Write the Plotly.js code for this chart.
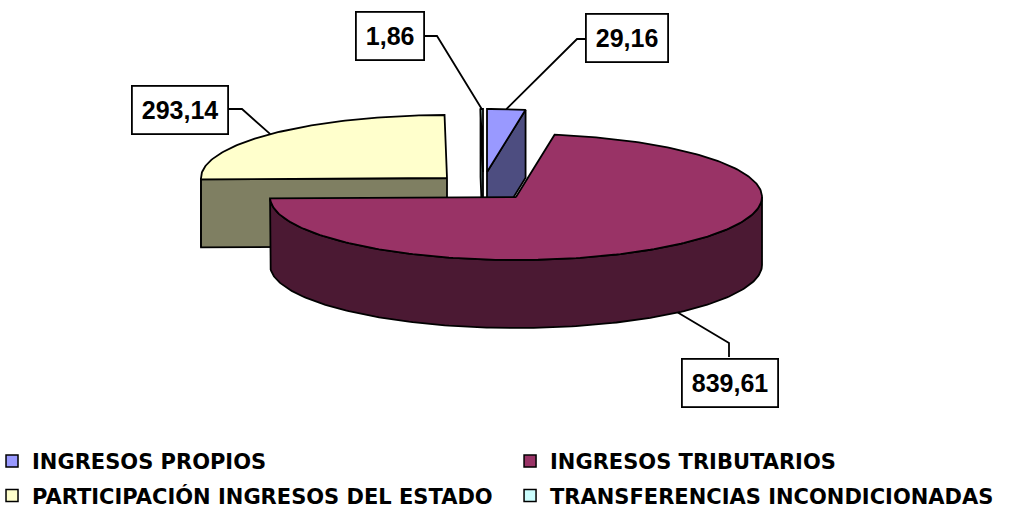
<!DOCTYPE html>
<html><head><meta charset="utf-8">
<script src="https://cdn.plot.ly/plotly-3.0.1.min.js"></script>
<style>html,body{margin:0;padding:0;background:#fff}#chart{width:1011px;height:508px}</style>
</head><body><div id="chart"></div>
<script>
// ---- data ----
const categories = ['INGRESOS PROPIOS', 'INGRESOS TRIBUTARIOS', 'PARTICIPACIÓN INGRESOS DEL ESTADO', 'TRANSFERENCIAS INCONDICIONADAS'];
const values = [29.16, 839.61, 293.14, 1.86];
const valueLabels = values.map(v => v.toFixed(2).replace('.', ','));

// ---- style ----
const topColors  = ['#9999FF', '#993366', '#FFFFCC', '#CCFFFF'];
const sideColors = ['#4D4D80', '#4B1933', '#7F7F62', '#668080'];
// explosion offsets of each slice (pixels, as drawn by the original 3-D renderer)
const explode = [[-29, -25], [0, 0], [-69, -19], [-33, -25]];
const PIE = {cx: 516, cy: 197, rx: 246, ry: 63, depth: 68};
const OUTLINE = {color: '#000', width: 1.8};
// label boxes (centre) and leader elbows, plus which rim the leader ends on
const labelBoxes = [
  {x: 627, y: 38, edge: [590, 39], elbow: [577, 39], rim: 'top'},
  {x: 730, y: 383, edge: [729, 357], elbow: [729, 343], rim: 'bottom'},
  {x: 180, y: 110, edge: [228, 109], elbow: [242, 109], rim: 'top'},
  {x: 390, y: 36, edge: [423, 36], elbow: [437, 36], rim: 'top'}
];

const rad = d => d * Math.PI / 180;
function pt(cx, cy, deg, dy) {
  return [cx + PIE.rx * Math.sin(rad(deg)), cy - PIE.ry * Math.cos(rad(deg)) + (dy || 0)];
}
function arc(cx, cy, a, b, dy) {
  const pts = [];
  const n = Math.max(2, Math.ceil(Math.abs(b - a)));
  for (let k = 0; k <= n; k++) pts.push(pt(cx, cy, a + (b - a) * k / n, dy));
  return pts;
}
function poly(points, fill) {
  return {type: 'scatter', mode: 'lines', x: points.map(p => p[0]), y: points.map(p => p[1]),
    fill: 'toself', fillcolor: fill, line: OUTLINE, hoverinfo: 'skip', showlegend: false};
}

const total = values.reduce((s, v) => s + v, 0);
let start = 0;
const slices = values.map((v, i) => {
  const a0 = start, a1 = start + v / total * 360; start = a1;
  const m = (a0 + a1) / 2;
  return {i, a0, a1, m, cx: PIE.cx + explode[i][0], cy: PIE.cy + explode[i][1], depthKey: -Math.cos(rad(m))};
});

const traces = [];
slices.slice().sort((p, q) => p.depthKey - q.depthKey).forEach(s => {
  const H = PIE.depth;
  // outer wall (front half only)
  const lo = Math.max(s.a0, 90), hi = Math.min(s.a1, 270);
  if (hi > lo) {
    const top = arc(s.cx, s.cy, lo, hi, 0), bot = arc(s.cx, s.cy, hi, lo, H);
    traces.push(poly(top.concat(bot, [top[0]]), sideColors[s.i]));
  }
  // radial cut faces facing the viewer
  [[s.a0, Math.sin(rad(s.a0)) < -1e-6], [s.a1, Math.sin(rad(s.a1)) > 1e-6]].forEach(([a, vis]) => {
    if (!vis) return;
    const p = pt(s.cx, s.cy, a);
    traces.push(poly([[s.cx, s.cy], p, [p[0], p[1] + H], [s.cx, s.cy + H], [s.cx, s.cy]], sideColors[s.i]));
  });
  // top face
  traces.push(poly([[s.cx, s.cy]].concat(arc(s.cx, s.cy, s.a0, s.a1, 0), [[s.cx, s.cy]]), topColors[s.i]));
});

// leader lines and value boxes
const annotations = [];
slices.forEach(s => {
  const L = labelBoxes[s.i];
  const anchor = pt(s.cx, s.cy, s.m, L.rim === 'bottom' ? PIE.depth : 0);
  traces.push({type: 'scatter', mode: 'lines', x: [anchor[0], L.elbow[0], L.edge[0]], y: [anchor[1], L.elbow[1], L.edge[1]],
    line: {color: '#000', width: 1.8}, hoverinfo: 'skip', showlegend: false});
  annotations.push({x: L.x, y: L.y, xref: 'x', yref: 'y', text: valueLabels[s.i], showarrow: false,
    font: {family: 'Liberation Sans, Arial, sans-serif', size: 25, color: '#000', weight: 'bold'},
    bgcolor: '#fff', bordercolor: '#000', borderwidth: 1.8, borderpad: 9});
});

// legend entries
categories.forEach((c, i) => {
  traces.push({type: 'scatter', mode: 'markers', x: [null], y: [null], name: c,
    legend: i % 2 === 0 ? 'legend' : 'legend2', legendgroup: 'g' + i,
    marker: {symbol: 'square', size: 12, color: topColors[i], line: {color: '#000', width: 1.5}},
    hoverinfo: 'skip'});
});

const legFont = {family: 'DejaVu Sans, sans-serif', size: 21, color: '#000', weight: 'bold'};
const legBase = {xanchor: 'left', yanchor: 'top', y: 0.132, font: legFont, bgcolor: 'rgba(0,0,0,0)',
  traceorder: 'grouped', tracegroupgap: 4, itemwidth: 30, orientation: 'v'};

const layout = {
  width: 1011, height: 508, margin: {l: 0, r: 0, t: 0, b: 0, autoexpand: false},
  paper_bgcolor: '#fff', plot_bgcolor: '#fff',
  xaxis: {range: [0, 1011], visible: false, fixedrange: true},
  yaxis: {range: [508, 0], visible: false, fixedrange: true},
  showlegend: true,
  legend: Object.assign({}, legBase, {x: -0.0079}),
  legend2: Object.assign({}, legBase, {x: 0.5045}),
  annotations: annotations
};
Plotly.newPlot('chart', traces, layout, {displayModeBar: false, staticPlot: true});
</script></body></html>
